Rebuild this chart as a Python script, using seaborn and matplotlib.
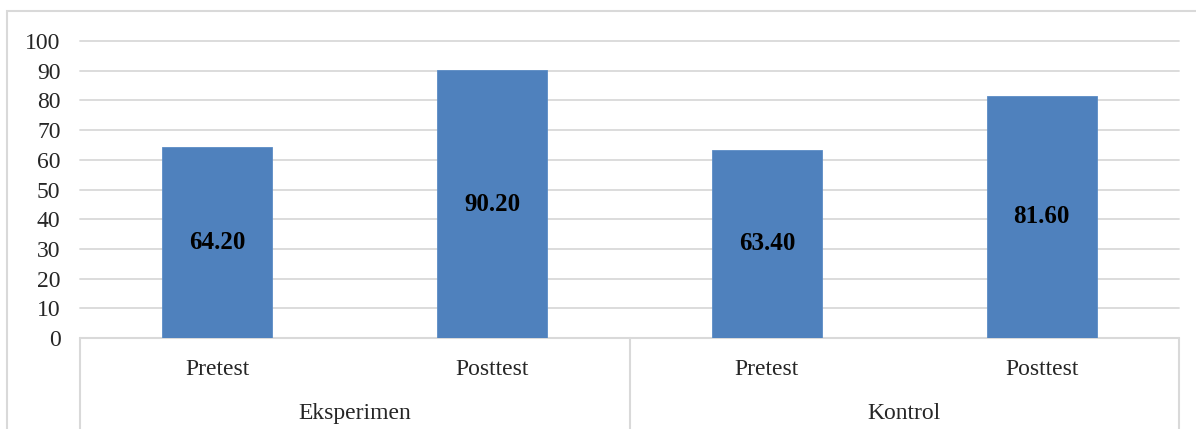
import matplotlib
matplotlib.use("Agg")
import matplotlib.pyplot as plt
import seaborn as sns
import pandas as pd
from matplotlib.lines import Line2D
from matplotlib.patches import Rectangle

# Data
groups = ["Eksperimen", "Eksperimen", "Kontrol", "Kontrol"]
tests = ["Pretest", "Posttest", "Pretest", "Posttest"]
scores = [64.20, 90.20, 63.40, 81.60]
group_names = ["Eksperimen", "Kontrol"]

df = pd.DataFrame({"group": groups, "test": tests, "score": scores})
df["key"] = df["group"] + " " + df["test"]

sns.set_style("white")
plt.rcParams["font.family"] = ["Liberation Serif", "DejaVu Serif"]

fig = plt.figure(figsize=(11.96, 4.29), dpi=100)
ax = fig.add_axes([80 / 1196, 91 / 429, 1099 / 1196, 297 / 429])

grid_col = "#D9D9D9"
bar_col = "#4F81BD"

sns.barplot(data=df, x="key", y="score", color=bar_col, width=0.4,
            saturation=1, edgecolor="#5B8CC6", linewidth=0.6, ax=ax, zorder=3)

ax.set_ylim(0, 100)
ax.set_yticks(range(0, 101, 10))
ax.yaxis.grid(True, color=grid_col, linewidth=1.3, zorder=0)
for gl in ax.get_ygridlines():
    gl.set_clip_on(False)
ax.set_axisbelow(True)
for s in ax.spines.values():
    s.set_visible(False)
ax.tick_params(axis="y", length=0, labelsize=17, pad=14)
ax.tick_params(axis="x", length=0, labelsize=17, pad=15)
ax.set_xticks(range(len(tests)))
ax.set_xticklabels(tests)
ax.set_xlabel("")
ax.set_ylabel("")

# Value labels in bar centers
for i, v in enumerate(scores):
    ax.text(i, v / 2, f"{v:.2f}", ha="center", va="center",
            fontsize=18, fontweight="bold", color="black", zorder=4)

# Multi-level category axis box
trans = ax.get_xaxis_transform()
n = len(tests)
ax.add_line(Line2D([-0.5, n - 0.5], [0, 0], transform=trans, color=grid_col,
                   linewidth=1.5, clip_on=False, zorder=2))
for xpos in [-0.5, 1.5, n - 0.5]:
    ax.add_line(Line2D([xpos, xpos], [0, -0.35], transform=trans, color=grid_col,
                       linewidth=1.5, clip_on=False))
for gi, g in enumerate(group_names):
    ax.text(gi * 2 + 0.5, -0.255, g, transform=trans, ha="center", va="center",
            fontsize=17)

# Outer chart border
fig.patches.append(Rectangle((7 / 1196, -0.1), 1.1, (429 - 11) / 429 + 0.1,
                             transform=fig.transFigure, fill=False,
                             edgecolor=grid_col, linewidth=1.5))

fig.savefig("out.png", dpi=100)
